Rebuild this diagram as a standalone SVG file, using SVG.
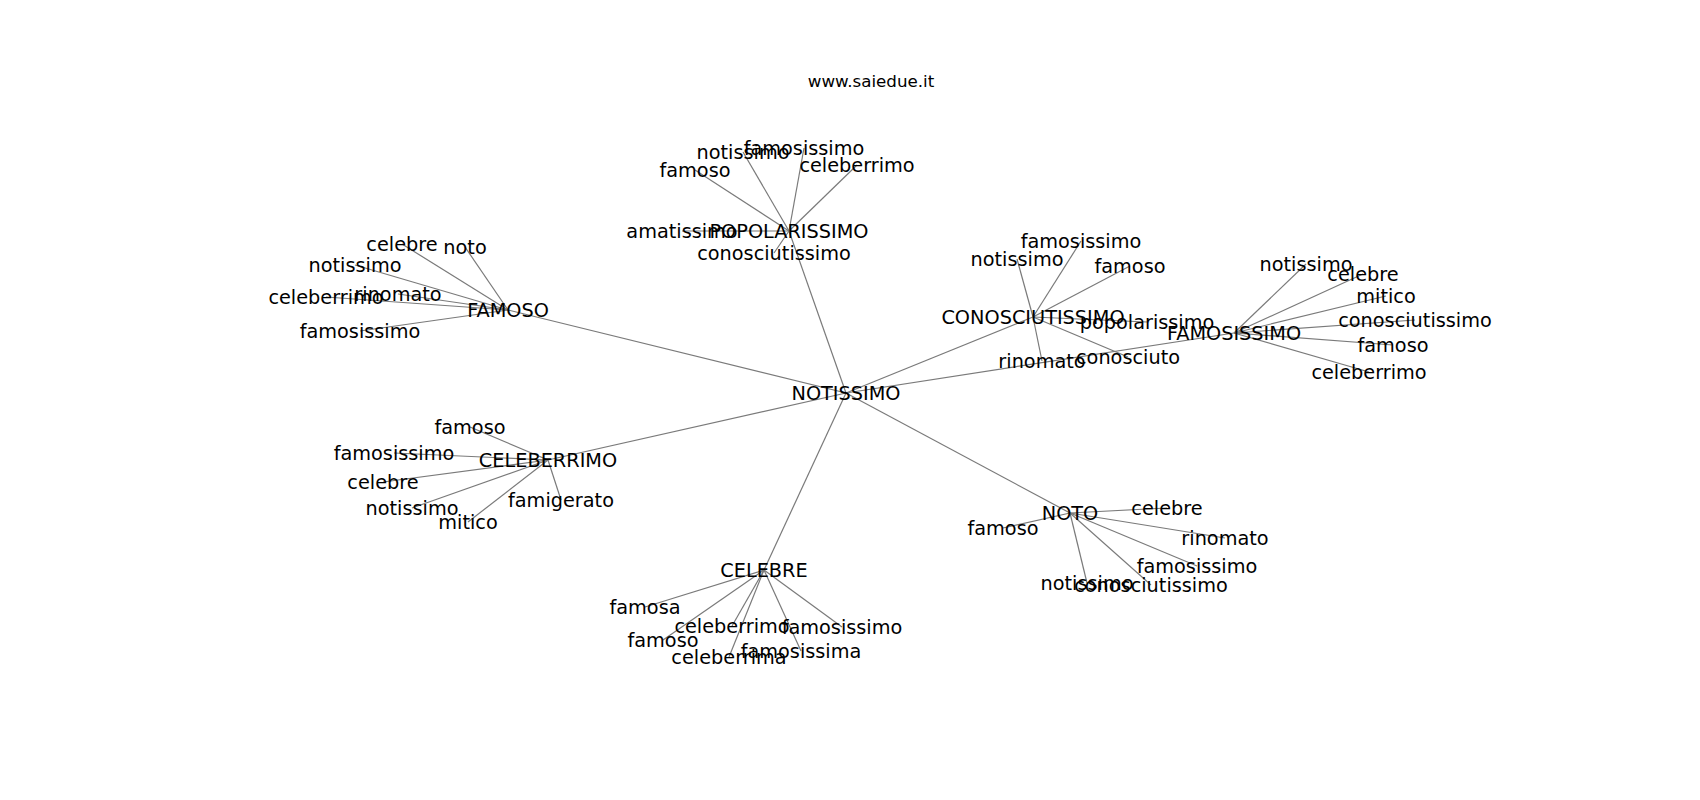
<svg xmlns="http://www.w3.org/2000/svg" width="1700" height="800" viewBox="0 0 1700 800">
<style>
.e{stroke:#7a7a7a;stroke-width:1.2;fill:none}
text{font-family:"DejaVu Sans",sans-serif;font-size:19.3px;fill:#000;text-anchor:middle;dominant-baseline:central}
.t{font-size:16.7px}
</style>
<rect width="1700" height="800" fill="#fff"/>
<text class="t" x="871" y="81">www.saiedue.it</text>
<g id="edges" class="e">
<line x1="846" y1="393" x2="789" y2="231"/>
<line x1="846" y1="393" x2="508" y2="310"/>
<line x1="846" y1="393" x2="1033" y2="317"/>
<line x1="846" y1="393" x2="1234" y2="333"/>
<line x1="846" y1="393" x2="548" y2="460"/>
<line x1="846" y1="393" x2="1070" y2="513"/>
<line x1="846" y1="393" x2="764" y2="570"/>
<line x1="789" y1="231" x2="695" y2="170"/>
<line x1="789" y1="231" x2="743" y2="152"/>
<line x1="789" y1="231" x2="804" y2="148"/>
<line x1="789" y1="231" x2="857" y2="165"/>
<line x1="789" y1="231" x2="682" y2="231"/>
<line x1="789" y1="231" x2="774" y2="253"/>
<line x1="508" y1="310" x2="402" y2="244"/>
<line x1="508" y1="310" x2="465" y2="247"/>
<line x1="508" y1="310" x2="355" y2="265"/>
<line x1="508" y1="310" x2="398" y2="294"/>
<line x1="508" y1="310" x2="326" y2="297"/>
<line x1="508" y1="310" x2="360" y2="331"/>
<line x1="1033" y1="317" x2="1081" y2="241"/>
<line x1="1033" y1="317" x2="1017" y2="259"/>
<line x1="1033" y1="317" x2="1130" y2="266"/>
<line x1="1033" y1="317" x2="1042" y2="361"/>
<line x1="1033" y1="317" x2="1147" y2="322"/>
<line x1="1033" y1="317" x2="1128" y2="357"/>
<line x1="1234" y1="333" x2="1306" y2="264"/>
<line x1="1234" y1="333" x2="1363" y2="274"/>
<line x1="1234" y1="333" x2="1386" y2="296"/>
<line x1="1234" y1="333" x2="1415" y2="320"/>
<line x1="1234" y1="333" x2="1393" y2="345"/>
<line x1="1234" y1="333" x2="1369" y2="372"/>
<line x1="548" y1="460" x2="470" y2="427"/>
<line x1="548" y1="460" x2="394" y2="453"/>
<line x1="548" y1="460" x2="383" y2="482"/>
<line x1="548" y1="460" x2="412" y2="508"/>
<line x1="548" y1="460" x2="468" y2="522"/>
<line x1="548" y1="460" x2="561" y2="500"/>
<line x1="1070" y1="513" x2="1003" y2="528"/>
<line x1="1070" y1="513" x2="1167" y2="508"/>
<line x1="1070" y1="513" x2="1225" y2="538"/>
<line x1="1070" y1="513" x2="1197" y2="566"/>
<line x1="1070" y1="513" x2="1087" y2="583"/>
<line x1="1070" y1="513" x2="1151" y2="585"/>
<line x1="764" y1="570" x2="645" y2="607"/>
<line x1="764" y1="570" x2="663" y2="640"/>
<line x1="764" y1="570" x2="732" y2="626"/>
<line x1="764" y1="570" x2="842" y2="627"/>
<line x1="764" y1="570" x2="801" y2="651"/>
<line x1="764" y1="570" x2="729" y2="657"/>
</g>
<g id="n-notissimo"><text x="846" y="393">NOTISSIMO</text></g>
<g id="n-popolarissimo"><text x="789" y="231">POPOLARISSIMO</text></g>
<g id="n-famoso"><text x="508" y="310">FAMOSO</text></g>
<g id="n-conosciutissimo"><text x="1033" y="317">CONOSCIUTISSIMO</text></g>
<g id="n-famosissimo"><text x="1234" y="333">FAMOSISSIMO</text></g>
<g id="n-celeberrimo"><text x="548" y="460">CELEBERRIMO</text></g>
<g id="n-noto"><text x="1070" y="513">NOTO</text></g>
<g id="n-celebre"><text x="764" y="570">CELEBRE</text></g>
<g id="p1"><text x="695" y="170">famoso</text></g>
<g id="p2"><text x="743" y="152">notissimo</text></g>
<g id="p3"><text x="804" y="148">famosissimo</text></g>
<g id="p4"><text x="857" y="165">celeberrimo</text></g>
<g id="p5"><text x="682" y="231">amatissimo</text></g>
<g id="p6"><text x="774" y="253">conosciutissimo</text></g>
<g id="f1"><text x="402" y="244">celebre</text></g>
<g id="f2"><text x="465" y="247">noto</text></g>
<g id="f3"><text x="355" y="265">notissimo</text></g>
<g id="f4"><text x="398" y="294">rinomato</text></g>
<g id="f5"><text x="326" y="297">celeberrimo</text></g>
<g id="f6"><text x="360" y="331">famosissimo</text></g>
<g id="c1"><text x="1081" y="241">famosissimo</text></g>
<g id="c2"><text x="1017" y="259">notissimo</text></g>
<g id="c3"><text x="1130" y="266">famoso</text></g>
<g id="c4"><text x="1042" y="361">rinomato</text></g>
<g id="c5"><text x="1147" y="322">popolarissimo</text></g>
<g id="c6"><text x="1128" y="357">conosciuto</text></g>
<g id="s1"><text x="1306" y="264">notissimo</text></g>
<g id="s2"><text x="1363" y="274">celebre</text></g>
<g id="s3"><text x="1386" y="296">mitico</text></g>
<g id="s4"><text x="1415" y="320">conosciutissimo</text></g>
<g id="s5"><text x="1393" y="345">famoso</text></g>
<g id="s6"><text x="1369" y="372">celeberrimo</text></g>
<g id="b1"><text x="470" y="427">famoso</text></g>
<g id="b2"><text x="394" y="453">famosissimo</text></g>
<g id="b3"><text x="383" y="482">celebre</text></g>
<g id="b4"><text x="412" y="508">notissimo</text></g>
<g id="b5"><text x="468" y="522">mitico</text></g>
<g id="b6"><text x="561" y="500">famigerato</text></g>
<g id="o1"><text x="1003" y="528">famoso</text></g>
<g id="o2"><text x="1167" y="508">celebre</text></g>
<g id="o3"><text x="1225" y="538">rinomato</text></g>
<g id="o4"><text x="1197" y="566">famosissimo</text></g>
<g id="o5"><text x="1087" y="583">notissimo</text></g>
<g id="o6"><text x="1151" y="585">conosciutissimo</text></g>
<g id="r1"><text x="645" y="607">famosa</text></g>
<g id="r2"><text x="663" y="640">famoso</text></g>
<g id="r3"><text x="732" y="626">celeberrimo</text></g>
<g id="r4"><text x="842" y="627">famosissimo</text></g>
<g id="r5"><text x="801" y="651">famosissima</text></g>
<g id="r6"><text x="729" y="657">celeberrima</text></g>
</svg>
